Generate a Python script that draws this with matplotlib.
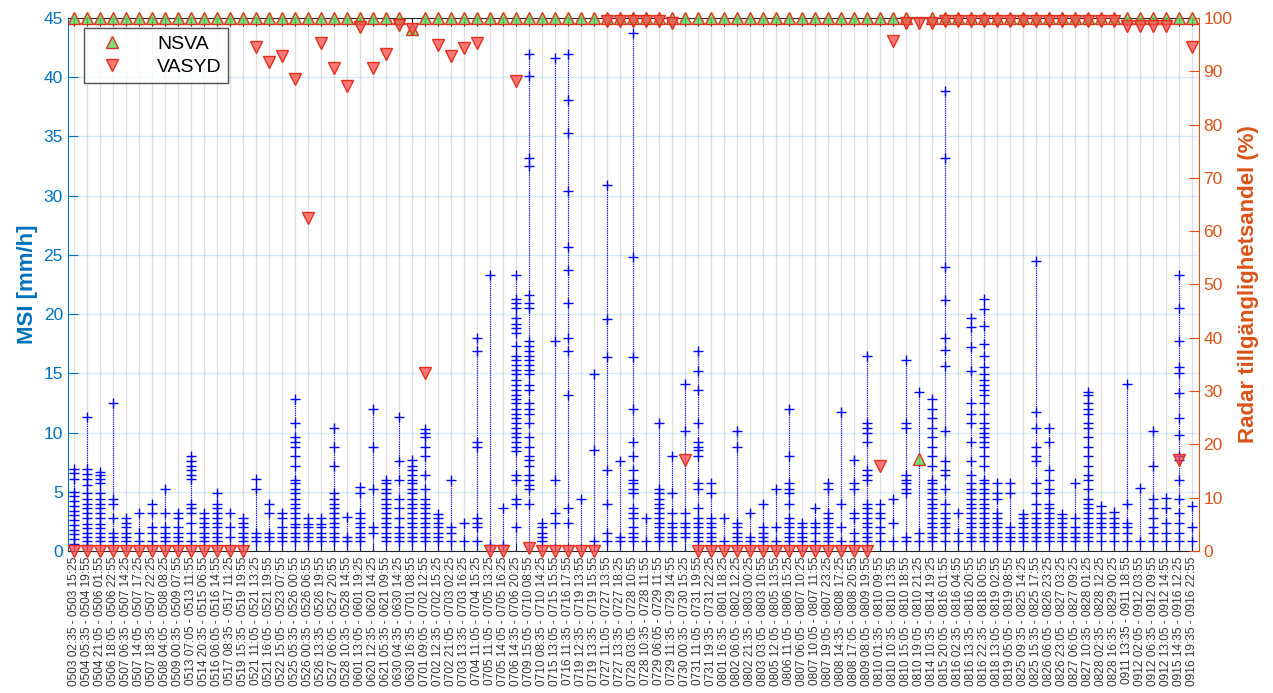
import matplotlib
matplotlib.use('Agg')
import matplotlib.pyplot as plt

plt.rcParams['font.family'] = ['Liberation Sans', 'DejaVu Sans']

# event labels (start - end)
labels = [
    '0503 02:35 - 0503 15:25', '0504 05:35 - 0504 19:55', '0504 21:05 - 0506 01:55',
    '0506 18:05 - 0506 22:55', '0507 06:35 - 0507 14:25', '0507 14:05 - 0507 17:25',
    '0507 18:35 - 0507 22:25', '0508 04:05 - 0508 08:25', '0509 00:35 - 0509 07:55',
    '0513 07:05 - 0513 11:55', '0514 20:35 - 0515 06:55', '0516 06:05 - 0516 14:55',
    '0517 08:35 - 0517 11:25', '0519 15:35 - 0519 19:55', '0521 11:05 - 0521 13:25',
    '0521 16:05 - 0521 19:55', '0522 15:05 - 0523 07:55', '0525 05:35 - 0526 00:55',
    '0526 00:35 - 0526 06:55', '0526 13:35 - 0526 19:55', '0527 06:05 - 0527 20:55',
    '0528 10:35 - 0528 14:55', '0601 13:05 - 0601 19:25', '0620 12:35 - 0620 14:25',
    '0621 05:35 - 0621 09:55', '0630 04:35 - 0630 14:25', '0630 16:35 - 0701 08:55',
    '0701 09:05 - 0702 12:55', '0702 12:35 - 0702 15:25', '0702 21:05 - 0703 02:25',
    '0703 13:35 - 0703 16:25', '0704 11:05 - 0704 15:25', '0705 11:05 - 0705 13:25',
    '0705 14:05 - 0705 16:25', '0706 14:35 - 0706 20:25', '0709 15:05 - 0710 08:55',
    '0710 08:35 - 0710 14:25', '0715 13:05 - 0715 15:55', '0716 11:35 - 0716 17:55',
    '0719 12:35 - 0719 13:55', '0719 13:35 - 0719 15:55', '0727 11:05 - 0727 13:55',
    '0727 13:35 - 0727 18:25', '0728 03:05 - 0728 10:55', '0728 10:35 - 0728 11:55',
    '0729 06:05 - 0729 11:55', '0729 11:35 - 0729 14:55', '0730 00:35 - 0730 15:25',
    '0731 11:05 - 0731 19:55', '0731 19:35 - 0731 22:25', '0801 16:35 - 0801 18:25',
    '0802 06:05 - 0802 12:25', '0802 21:35 - 0803 00:25', '0803 03:05 - 0803 10:55',
    '0805 12:05 - 0805 13:55', '0806 11:05 - 0806 15:25', '0807 06:05 - 0807 10:25',
    '0807 10:05 - 0807 11:55', '0807 19:05 - 0807 23:25', '0808 14:35 - 0808 17:25',
    '0808 17:05 - 0808 20:55', '0809 08:05 - 0809 19:55', '0810 01:35 - 0810 09:55',
    '0810 10:35 - 0810 13:55', '0810 15:05 - 0810 18:55', '0810 19:05 - 0810 21:25',
    '0814 10:35 - 0814 19:25', '0815 20:05 - 0816 01:55', '0816 02:35 - 0816 04:55',
    '0816 13:35 - 0816 20:55', '0816 22:35 - 0818 00:55', '0818 13:05 - 0819 02:55',
    '0819 05:05 - 0819 08:55', '0825 09:35 - 0825 14:25', '0825 15:35 - 0825 17:55',
    '0826 06:05 - 0826 23:25', '0826 23:05 - 0827 03:25', '0827 06:05 - 0827 09:25',
    '0827 10:35 - 0828 01:25', '0828 02:35 - 0828 12:25', '0828 16:35 - 0829 00:25',
    '0911 13:35 - 0911 18:55', '0912 02:05 - 0912 03:55', '0912 06:35 - 0912 09:55',
    '0912 13:05 - 0912 14:55', '0915 14:35 - 0916 12:25', '0916 19:35 - 0916 22:55',
]

# MSI values (mm/h) per event
msi = [
    [6.9, 6.6, 6.1, 5.0, 4.6, 4.2, 3.8, 3.4, 3.0, 2.6, 2.2, 1.8, 1.4, 1.0, 0.6],
    [11.3, 6.9, 6.5, 6.1, 5.6, 4.9, 4.4, 4.0, 3.6, 3.2, 2.8, 2.3, 1.9, 1.5, 1.2, 0.8, 0.5],
    [6.7, 6.4, 6.1, 5.7, 4.9, 4.4, 4.0, 3.6, 3.2, 2.8, 2.3, 1.9, 1.5, 1.2, 0.8],
    [12.5, 4.4, 4.0, 2.8, 1.5, 1.2, 0.8],
    [2.8, 2.4, 2.0, 1.5, 1.2, 0.8],
    [3.2, 1.5, 0.8],
    [4.0, 3.2, 2.0, 1.5, 0.8],
    [5.2, 3.2, 2.0, 1.5, 1.2, 0.8],
    [3.2, 2.8, 2.0, 1.5, 1.2, 0.8],
    [8.0, 7.6, 7.2, 6.8, 6.4, 6.1, 4.0, 3.6, 3.2, 2.4, 1.5, 0.8],
    [3.2, 2.8, 2.4, 2.0, 1.5, 1.2, 0.8],
    [4.9, 4.0, 3.6, 3.2, 2.8, 2.4, 2.0, 1.5, 1.2, 0.8],
    [3.2, 2.0, 1.2],
    [2.8, 2.4, 2.0, 1.5, 1.2, 0.8],
    [6.1, 5.2, 1.5, 1.2, 0.8],
    [4.0, 3.2, 1.5, 1.2, 0.8],
    [3.2, 2.8, 2.0, 1.5, 1.2, 0.8],
    [12.8, 10.8, 9.6, 9.2, 8.8, 8.0, 7.2, 6.0, 5.7, 5.2, 4.9, 4.4, 4.0, 3.6, 3.2, 2.8, 2.3, 2.0, 1.5, 1.2, 0.8],
    [2.8, 2.3, 2.0, 1.5, 1.2, 0.8],
    [2.8, 2.3, 2.0, 1.5, 1.2, 0.8],
    [10.4, 8.8, 7.2, 4.9, 4.4, 4.0, 3.6, 3.2, 2.8, 2.4, 2.0, 1.5, 1.2, 0.8],
    [2.9, 1.2, 0.8],
    [5.4, 4.9, 3.2, 2.8, 2.4, 2.0, 1.5, 1.2, 0.8],
    [12.0, 8.8, 5.2, 2.0, 1.5],
    [6.0, 5.7, 5.2, 4.9, 4.4, 4.0, 3.6, 3.2, 2.8, 2.4, 2.0, 1.5, 1.2, 0.8],
    [11.3, 7.6, 6.0, 4.4, 3.6, 2.8, 2.0, 1.5, 1.2, 0.8],
    [7.7, 7.2, 6.8, 6.4, 6.0, 5.7, 5.2, 4.9, 4.4, 4.0, 3.6, 3.2, 2.8, 2.4, 2.0, 1.5, 1.2, 0.8],
    [10.3, 10.0, 9.6, 8.8, 8.0, 6.4, 5.2, 4.4, 4.0, 3.6, 3.2, 2.8, 2.4, 2.0, 1.5, 1.2, 0.8],
    [3.1, 2.8, 2.4, 2.0, 1.5, 1.2, 0.8],
    [6.0, 2.0, 1.5, 0.8],
    [2.4, 0.8],
    [18.0, 16.9, 9.2, 8.8, 2.8, 2.4, 2.0, 0.8],
    [23.3, 0.5],
    [3.6, 0.5],
    [23.3, 21.3, 20.9, 20.5, 19.7, 19.2, 18.8, 18.4, 17.3, 16.5, 16.1, 15.7, 15.3, 14.9, 14.4,
     14.0, 13.6, 13.2, 12.8, 12.5, 12.0, 11.6, 11.2, 10.8, 10.4, 10.0, 9.6, 9.2, 8.8, 8.4,
     6.4, 6.0, 4.4, 4.0, 2.0],
    [42.0, 40.1, 33.2, 32.5, 21.6, 20.9, 20.5, 17.7, 17.3, 16.9, 16.5, 16.1, 15.7, 15.3, 14.9,
     14.0, 13.6, 12.5, 12.0, 11.6, 10.8, 9.6, 8.8, 8.0, 7.7, 7.2, 6.4, 6.0, 5.6, 5.2, 4.0],
    [2.4, 2.0, 1.5, 1.2, 0.8],
    [41.6, 17.7, 6.0, 3.2, 2.4],
    [42.0, 38.1, 35.3, 30.4, 25.7, 23.7, 20.9, 18.0, 16.9, 13.2, 3.6, 2.4],
    [4.4],
    [14.9, 8.5, 0.8],
    [30.9, 19.6, 16.4, 6.8, 4.0, 1.5, 0.8],
    [7.6, 1.2, 0.8],
    [43.7, 24.8, 16.4, 12.0, 9.2, 8.0, 6.8, 6.0, 5.7, 5.2, 4.9, 3.6, 3.2, 2.8, 2.0, 1.5, 1.2, 0.8],
    [2.8, 0.8],
    [10.8, 5.2, 4.9, 4.4, 4.0, 3.6, 3.2, 2.8, 2.4, 2.0, 1.5, 1.2, 0.8],
    [8.0, 4.9, 3.2, 2.4, 2.0, 1.5, 1.2, 0.8],
    [14.1, 10.1, 3.2, 2.4, 2.0, 1.5, 1.2],
    [16.9, 15.2, 13.6, 10.8, 9.2, 8.8, 8.5, 8.0, 5.7, 5.2, 3.6, 2.8, 2.4, 2.0, 1.5, 1.2, 0.8],
    [5.7, 4.9, 2.8, 2.4, 2.0, 1.5, 1.2, 0.8],
    [2.8, 0.8],
    [10.1, 8.8, 2.4, 2.0, 1.5, 1.2, 0.8],
    [3.2, 1.2, 0.8],
    [4.0, 2.0, 1.5, 1.2, 0.8],
    [5.2, 2.0, 0.8],
    [12.0, 8.0, 5.7, 5.2, 4.9, 4.0, 2.8, 2.4, 2.0, 1.5, 1.2, 0.8],
    [2.4, 2.0, 1.5, 1.2, 0.8],
    [3.6, 2.4, 2.0, 1.5, 0.8],
    [5.7, 5.2, 3.2, 2.8, 2.4, 2.0, 1.5, 1.2, 0.8],
    [11.7, 4.0, 2.0, 0.8],
    [7.7, 5.7, 5.2, 3.2, 2.8, 1.5, 0.8],
    [16.5, 10.8, 10.4, 10.0, 9.2, 6.8, 6.4, 6.0, 4.0, 3.6, 3.2, 2.8, 2.4, 2.0, 1.5, 1.2, 0.8],
    [4.0, 3.2, 2.8, 2.0, 1.5, 0.8],
    [4.4, 2.4, 0.8],
    [16.1, 10.8, 10.4, 6.4, 6.0, 5.7, 5.2, 4.9, 1.2, 0.8],
    [13.4, 1.5, 0.8],
    [12.8, 12.0, 11.2, 10.4, 9.6, 8.8, 8.0, 7.2, 6.0, 5.7, 5.2, 4.9, 4.4, 4.0, 3.6, 3.2, 2.8,
     2.4, 2.0, 1.5, 1.2, 0.8],
    [38.8, 33.2, 24.0, 21.2, 18.0, 17.0, 15.6, 10.1, 7.6, 6.8, 6.4, 5.2, 4.0, 3.2, 2.8, 2.4,
     2.0, 1.5, 0.8],
    [3.2, 1.5, 0.8],
    [19.7, 18.9, 17.2, 15.2, 12.5, 11.6, 10.8, 9.2, 7.6, 6.4, 5.7, 5.2, 4.9, 4.4, 4.0, 3.6,
     3.2, 2.8, 2.4, 2.0, 1.5, 1.2, 0.8],
    [21.3, 20.4, 19.0, 17.5, 16.5, 15.5, 14.9, 14.4, 14.0, 13.6, 13.2, 12.5, 11.6, 10.8, 10.4,
     10.0, 9.6, 9.2, 8.8, 8.0, 7.2, 6.0, 5.7, 5.2, 4.9, 4.4, 4.0, 3.6, 3.2, 2.8, 2.4, 2.0,
     1.5, 1.2, 0.8],
    [5.7, 4.9, 4.4, 3.2, 2.8, 2.4, 2.0, 1.5, 1.2, 0.8],
    [5.7, 4.9, 2.0, 1.5, 1.2, 0.8],
    [3.1, 2.8, 2.4, 2.0, 1.5, 1.2, 0.8],
    [24.5, 11.7, 10.4, 8.8, 8.0, 7.6, 5.7, 4.9, 4.0, 3.2, 2.8, 2.4, 2.0, 1.5, 1.2, 0.8],
    [10.4, 9.2, 6.8, 6.0, 5.2, 4.9, 4.0, 3.6, 3.2, 2.8, 2.4, 2.0, 1.5, 1.2, 0.8],
    [3.1, 2.8, 2.4, 2.0, 1.5, 1.2, 0.8],
    [5.7, 2.8, 2.0, 1.5, 1.2, 0.8],
    [13.4, 13.2, 12.5, 12.0, 11.6, 10.8, 10.4, 9.6, 8.8, 8.0, 7.2, 6.4, 6.0, 5.2, 4.4, 4.0,
     3.6, 3.2, 2.8, 2.4, 2.0, 1.5, 1.2, 0.8],
    [3.8, 3.2, 2.8, 2.4, 2.0, 1.5, 0.8],
    [3.3, 2.8, 2.4, 2.0, 1.5, 0.8],
    [14.1, 4.0, 2.4, 2.0, 1.5, 0.8],
    [5.3, 0.8],
    [10.1, 7.2, 4.4, 3.6, 2.8, 2.0, 1.5, 0.8],
    [4.5, 3.6, 2.4, 1.5, 0.8],
    [23.3, 20.5, 17.7, 15.5, 15.0, 13.3, 11.2, 9.8, 8.0, 7.7, 6.0, 4.4, 3.2, 2.4, 1.5, 0.8],
    [3.8, 2.0, 0.8],
]

# radar availability (%)
nsva = [
    100, 100, 100, 100, 100, 100, 100, 100, 100, 100,
    100, 100, 100, 100, 100, 100, 100, 100, 100, 100,
    100, 100, 100, 100, 100, 100, 97.9, 100, 100, 100,
    100, 100, 100, 100, 100, 100, 100, 100, 100, 100,
    100, 100, 100, 100, 100, 100, 100, 100, 100, 100,
    100, 100, 100, 100, 100, 100, 100, 100, 100, 100,
    100, 100, 100, 100, 100, 17.2, 100, 100, 100, 100,
    100, 100, 100, 100, 100, 100, 100, 100, 100, 100,
    100, 100, 100, 100, 100, 100, 100,
]
vasyd = [
    0, 0, 0, 0, 0, 0, 0, 0, 0, 0,
    0, 0, 0, 0, 94.6, 91.8, 92.8, 88.5, 62.4, 95.3,
    90.6, 87.3, 98.4, 90.6, 93.2, 98.7, 97.9, 33.3, 94.9, 92.8,
    94.3, 95.4, 0, 0, 88.1, 0.5, 0, 0, 0, 0,
    0, 99.5, 99.5, 99.5, 99.5, 99.5, 99, 17, 0, 0,
    0, 0, 0, 0, 0, 0, 0, 0, 0, 0,
    0, 0, 16, 95.7, 99, 99, 99, 99.5, 99.5, 99.5,
    99.5, 99.5, 99.5, 99.5, 99.5, 99.5, 99.5, 99.5, 99.5, 99.5,
    99.5, 98.5, 98.5, 98.5, 98.5, 17, 94.5,
]

blue = '#0072BD'
orange = '#D95319'

fig = plt.figure(figsize=(12.73, 6.93), dpi=100)
ax = fig.add_axes([0.0533, 0.205, 0.8882, 0.769])

pos = list(range(len(labels)))
tops = [max(v) for v in msi]
ax.vlines(pos, 0, tops, colors='#0000FF', linestyles=(0, (1, 1)), lw=0.8, zorder=2)
xs, ys = [], []
for i, vals in enumerate(msi):
    xs += [i] * len(vals)
    ys += vals
ax.plot(xs, ys, '+', color='#0000FF', ms=7, mew=1.0, zorder=3)

ax.set_xlim(-0.5, len(labels) - 0.5)
ax.set_ylim(0, 45)
ax.set_yticks(range(0, 46, 5))
ax.set_xticks(pos)
ax.set_xticklabels(labels, rotation=90, fontsize=8.6, color='#333333')
ax.grid(axis='x', color='#262626', alpha=0.15, lw=1)
ax.grid(axis='y', color=blue, alpha=0.15, lw=1)
ax.set_axisbelow(True)
ax.tick_params(axis='x', direction='in', top=True, length=6, color='#262626', pad=4)
ax.tick_params(axis='y', direction='in', colors=blue, length=7, labelsize=12.5)
ax.set_ylabel('MSI [mm/h]', color=blue, fontsize=16, fontweight='bold')
for s in ['top', 'bottom']:
    ax.spines[s].set_color('#262626')
ax.spines['left'].set_color(blue)
ax.spines['right'].set_visible(False)

ax2 = ax.twinx()
ax2.set_ylim(0, 100)
ax2.set_yticks(range(0, 101, 10))
ax2.tick_params(axis='y', direction='in', colors=orange, length=7, labelsize=12.5)
ax2.set_ylabel('Radar tillgänglighetsandel (%)', color=orange, fontsize=16, fontweight='bold')
ax2.spines['right'].set_color(orange)
ax2.spines['left'].set_visible(False)
ax2.spines['top'].set_visible(False)
ax2.spines['bottom'].set_visible(False)

ax2.plot(pos, nsva, '^', ls='none', ms=9, mfc=(0.35, 0.85, 0.35, 0.8), mec='#E0301E',
         mew=1.0, clip_on=False, label='NSVA', zorder=4)
ax2.plot(pos, vasyd, 'v', ls='none', ms=9, mfc=(1.0, 0.3, 0.3, 0.75), mec='#E0301E',
         mew=1.0, clip_on=False, label='VASYD', zorder=5)

leg = ax2.legend(loc='upper left', bbox_to_anchor=(0.0143, 0.981), fontsize=14,
                 frameon=True, fancybox=False, edgecolor='#262626', handlelength=2.2,
                 handletextpad=1.2, borderpad=0.35, labelspacing=0.3, borderaxespad=0)
leg.get_frame().set_linewidth(1.0)

fig.savefig('out.png', dpi=100)
